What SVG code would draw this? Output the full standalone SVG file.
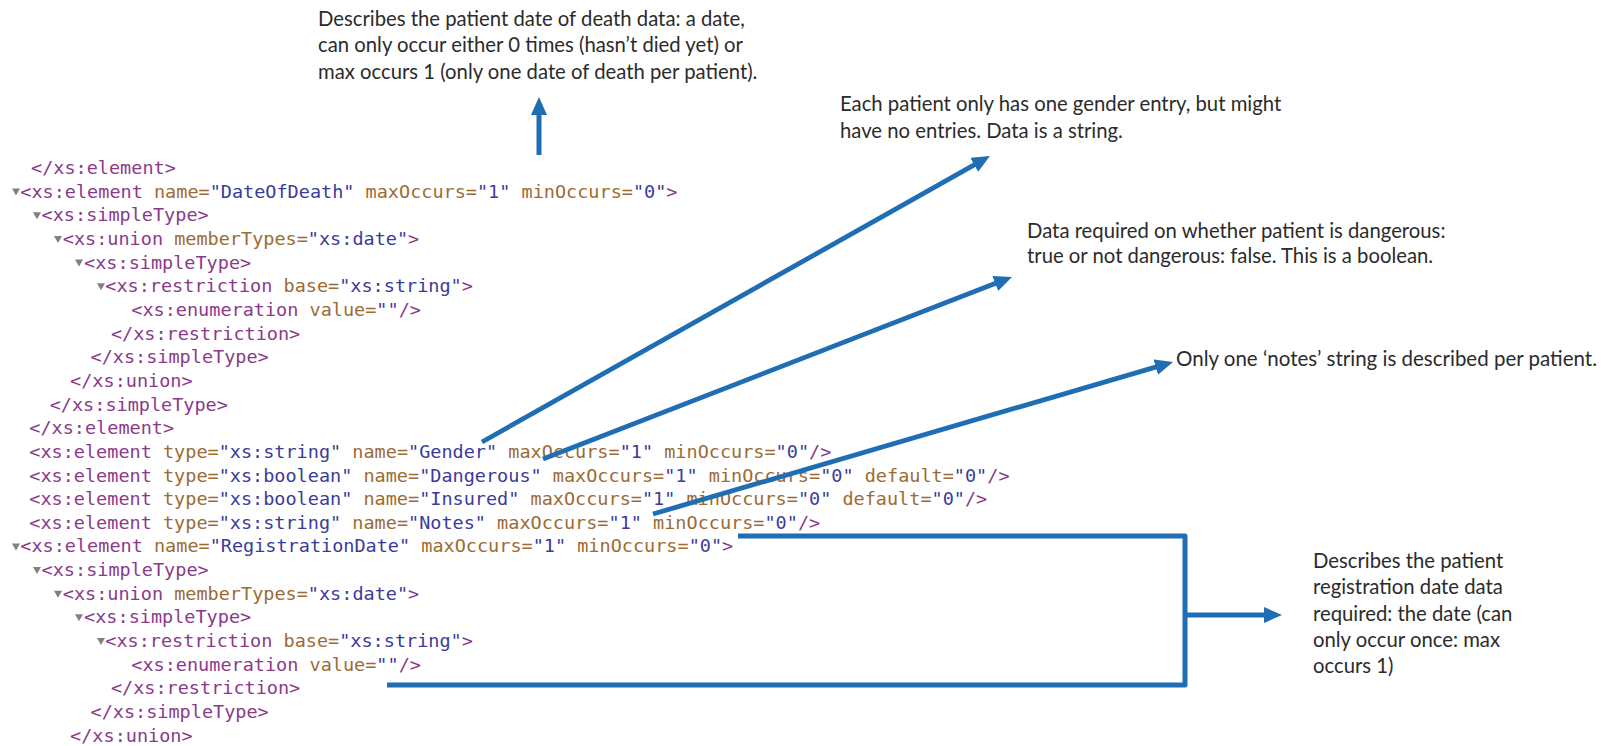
<svg xmlns="http://www.w3.org/2000/svg" width="1601" height="746" viewBox="0 0 1601 746">
  <style>
    .code { font-family: "DejaVu Sans Mono", "Liberation Mono", monospace; font-size: 18.5px; white-space: pre; }
    .t { fill: #8b3a8b; }
    .a { fill: #9c6b35; }
    .v { fill: #3b3b9b; }
    .fold { fill: #808080; }
    .note { font-family: Lato, "Noto Sans", "Liberation Sans", sans-serif; font-size: 20.3px; fill: #2b2b2b; white-space: pre; }
    .wire { fill: none; stroke: #1f6db3; stroke-width: 5; stroke-linecap: butt; stroke-linejoin: round; }
    .ray { fill: none; stroke: #1f6db3; stroke-width: 4.8; stroke-linecap: butt; }
  </style>
  <defs>
    <marker id="head" viewBox="0 0 18 16" refX="6" refY="8" markerWidth="18" markerHeight="16" markerUnits="userSpaceOnUse" orient="auto">
      <path d="M0,0 L18,8 L0,16 z" fill="#1f6db3"/>
    </marker>
    <path id="tri" d="M-4,-3 L4,-3 L0,4 z"/>
  </defs>

  <rect width="1601" height="746" fill="#ffffff"/>

  <!-- XML schema listing -->
  <g id="schema-listing" class="code">
    <g class="fold">
      <use href="#tri" x="16" y="191.6"/>
      <use href="#tri" x="37" y="215.3"/>
      <use href="#tri" x="58" y="239"/>
      <use href="#tri" x="79" y="262.6"/>
      <use href="#tri" x="101" y="286.2"/>
      <use href="#tri" x="16" y="546.4"/>
      <use href="#tri" x="37" y="570"/>
      <use href="#tri" x="58" y="593.7"/>
      <use href="#tri" x="79" y="617.3"/>
      <use href="#tri" x="101" y="641"/>
    </g>
    <text x="31" y="174"><tspan class="t">&lt;/xs:element&gt;</tspan></text>
    <text x="20.3" y="197.7"><tspan class="t">&lt;xs:element</tspan><tspan class="a"> name=</tspan><tspan class="v">"DateOfDeath"</tspan><tspan class="a"> maxOccurs=</tspan><tspan class="v">"1"</tspan><tspan class="a"> minOccurs=</tspan><tspan class="v">"0"</tspan><tspan class="t">&gt;</tspan></text>
    <text x="41.6" y="221.3"><tspan class="t">&lt;xs:simpleType&gt;</tspan></text>
    <text x="62.8" y="245"><tspan class="t">&lt;xs:union</tspan><tspan class="a"> memberTypes=</tspan><tspan class="v">"xs:date"</tspan><tspan class="t">&gt;</tspan></text>
    <text x="84.1" y="268.6"><tspan class="t">&lt;xs:simpleType&gt;</tspan></text>
    <text x="105.3" y="292.3"><tspan class="t">&lt;xs:restriction</tspan><tspan class="a"> base=</tspan><tspan class="v">"xs:string"</tspan><tspan class="t">&gt;</tspan></text>
    <text x="131.3" y="315.9"><tspan class="t">&lt;xs:enumeration</tspan><tspan class="a"> value=</tspan><tspan class="v">""</tspan><tspan class="t">/&gt;</tspan></text>
    <text x="110.9" y="339.6"><tspan class="t">&lt;/xs:restriction&gt;</tspan></text>
    <text x="90.5" y="363.2"><tspan class="t">&lt;/xs:simpleType&gt;</tspan></text>
    <text x="70.1" y="386.9"><tspan class="t">&lt;/xs:union&gt;</tspan></text>
    <text x="49.7" y="410.5"><tspan class="t">&lt;/xs:simpleType&gt;</tspan></text>
    <text x="29.3" y="434.2"><tspan class="t">&lt;/xs:element&gt;</tspan></text>
    <text x="29.3" y="457.8"><tspan class="t">&lt;xs:element</tspan><tspan class="a"> type=</tspan><tspan class="v">"xs:string"</tspan><tspan class="a"> name=</tspan><tspan class="v">"Gender"</tspan><tspan class="a"> maxOccurs=</tspan><tspan class="v">"1"</tspan><tspan class="a"> minOccurs=</tspan><tspan class="v">"0"</tspan><tspan class="t">/&gt;</tspan></text>
    <text x="29.3" y="481.5"><tspan class="t">&lt;xs:element</tspan><tspan class="a"> type=</tspan><tspan class="v">"xs:boolean"</tspan><tspan class="a"> name=</tspan><tspan class="v">"Dangerous"</tspan><tspan class="a"> maxOccurs=</tspan><tspan class="v">"1"</tspan><tspan class="a"> minOccurs=</tspan><tspan class="v">"0"</tspan><tspan class="a"> default=</tspan><tspan class="v">"0"</tspan><tspan class="t">/&gt;</tspan></text>
    <text x="29.3" y="505.1"><tspan class="t">&lt;xs:element</tspan><tspan class="a"> type=</tspan><tspan class="v">"xs:boolean"</tspan><tspan class="a"> name=</tspan><tspan class="v">"Insured"</tspan><tspan class="a"> maxOccurs=</tspan><tspan class="v">"1"</tspan><tspan class="a"> minOccurs=</tspan><tspan class="v">"0"</tspan><tspan class="a"> default=</tspan><tspan class="v">"0"</tspan><tspan class="t">/&gt;</tspan></text>
    <text x="29.3" y="528.8"><tspan class="t">&lt;xs:element</tspan><tspan class="a"> type=</tspan><tspan class="v">"xs:string"</tspan><tspan class="a"> name=</tspan><tspan class="v">"Notes"</tspan><tspan class="a"> maxOccurs=</tspan><tspan class="v">"1"</tspan><tspan class="a"> minOccurs=</tspan><tspan class="v">"0"</tspan><tspan class="t">/&gt;</tspan></text>
    <text x="20.3" y="552.4"><tspan class="t">&lt;xs:element</tspan><tspan class="a"> name=</tspan><tspan class="v">"RegistrationDate"</tspan><tspan class="a"> maxOccurs=</tspan><tspan class="v">"1"</tspan><tspan class="a"> minOccurs=</tspan><tspan class="v">"0"</tspan><tspan class="t">&gt;</tspan></text>
    <text x="41.6" y="576.1"><tspan class="t">&lt;xs:simpleType&gt;</tspan></text>
    <text x="62.8" y="599.7"><tspan class="t">&lt;xs:union</tspan><tspan class="a"> memberTypes=</tspan><tspan class="v">"xs:date"</tspan><tspan class="t">&gt;</tspan></text>
    <text x="84.1" y="623.4"><tspan class="t">&lt;xs:simpleType&gt;</tspan></text>
    <text x="105.3" y="647"><tspan class="t">&lt;xs:restriction</tspan><tspan class="a"> base=</tspan><tspan class="v">"xs:string"</tspan><tspan class="t">&gt;</tspan></text>
    <text x="131.3" y="670.7"><tspan class="t">&lt;xs:enumeration</tspan><tspan class="a"> value=</tspan><tspan class="v">""</tspan><tspan class="t">/&gt;</tspan></text>
    <text x="110.9" y="694.3"><tspan class="t">&lt;/xs:restriction&gt;</tspan></text>
    <text x="90.5" y="718"><tspan class="t">&lt;/xs:simpleType&gt;</tspan></text>
    <text x="70.1" y="741.6"><tspan class="t">&lt;/xs:union&gt;</tspan></text>
  </g>

  <!-- Annotations -->
  <g id="note-date-of-death" class="note">
    <text x="318" y="25.5">Describes the patient date of death data: a date,</text>
    <text x="318" y="52">can only occur either 0 times (hasn’t died yet) or</text>
    <text x="318" y="78.5">max occurs 1 (only one date of death per patient).</text>
  </g>
  <g id="note-gender" class="note">
    <text x="840" y="111">Each patient only has one gender entry, but might</text>
    <text x="840" y="138">have no entries. Data is a string.</text>
  </g>
  <g id="note-dangerous" class="note">
    <text x="1027" y="237.5">Data required on whether patient is dangerous:</text>
    <text x="1027" y="263">true or not dangerous: false. This is a boolean.</text>
  </g>
  <g id="note-notes" class="note">
    <text x="1176" y="366" textLength="421" lengthAdjust="spacingAndGlyphs">Only one ‘notes’ string is described per patient.</text>
  </g>
  <g id="note-registration" class="note">
    <text x="1313" y="568">Describes the patient</text>
    <text x="1313" y="594">registration date data</text>
    <text x="1313" y="620.5">required: the date (can</text>
    <text x="1313" y="647">only occur once: max</text>
    <text x="1313" y="673">occurs 1)</text>
  </g>

  <!-- Connectors -->
  <g id="connectors">
    <path class="wire" d="M539,155 V109" marker-end="url(#head)"/>
    <path class="ray" d="M482,442 L979.5,161.9" marker-end="url(#head)"/>
    <path class="ray" d="M543,459 L1000.8,281.3" marker-end="url(#head)"/>
    <path class="ray" d="M653,514 L1161.5,365.4" marker-end="url(#head)"/>
    <path class="wire" d="M738,536 H1185 V685 H387"/>
    <path class="wire" d="M1185,615 H1270" marker-end="url(#head)"/>
  </g>
</svg>
